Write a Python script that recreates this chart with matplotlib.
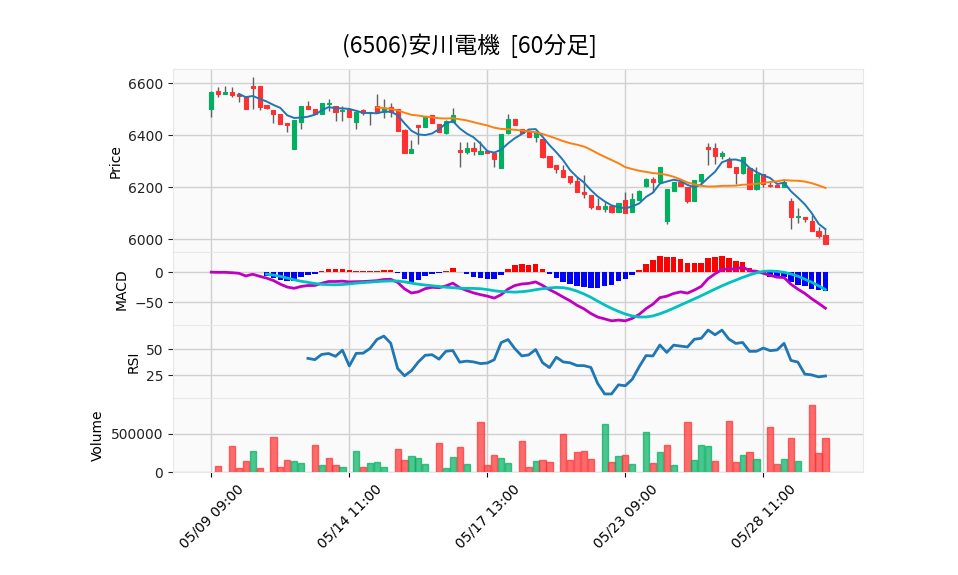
import numpy as np
import pandas as pd
import matplotlib
matplotlib.use("Agg")
import matplotlib.pyplot as plt

# 60-minute bars, (6506) 安川電機
opens = [6500, 6569, 6560, 6567, 6560, 6549, 6590, 6590, 6515, 6496,
         6482, 6449, 6349, 6453, 6513, 6501, 6483, 6521, 6513, 6495,
         6501, 6453, 6497, 6486, 6513, 6488, 6508, 6500, 6421, 6331,
         6440, 6433, 6478, 6444, 6410, 6453, 6343, 6337, 6350, 6327,
         6340, 6333, 6276, 6408, 6462, 6426, 6413, 6395, 6385, 6322,
         6286, 6267, 6244, 6224, 6182, 6169, 6128, 6118, 6128, 6106,
         6151, 6106, 6151, 6206, 6232, 6222, 6072, 6187, 6222, 6203,
         6149, 6226, 6354, 6350, 6322, 6308, 6279, 6256, 6276, 6192,
         6250, 6209, 6209, 6200, 6147, 6085, 6087, 6070, 6032, 6017]
highs = [6572, 6585, 6590, 6585, 6564, 6551, 6623, 6590, 6515, 6496,
         6482, 6449, 6459, 6513, 6531, 6501, 6524, 6541, 6513, 6513,
         6501, 6488, 6500, 6490, 6559, 6538, 6523, 6500, 6426, 6382,
         6440, 6476, 6478, 6444, 6459, 6504, 6376, 6376, 6376, 6380,
         6340, 6333, 6405, 6482, 6462, 6426, 6420, 6413, 6385, 6322,
         6286, 6286, 6244, 6241, 6246, 6169, 6158, 6145, 6128, 6141,
         6183, 6177, 6190, 6235, 6238, 6277, 6194, 6222, 6222, 6203,
         6228, 6251, 6372, 6372, 6341, 6315, 6279, 6315, 6276, 6277,
         6250, 6224, 6209, 6229, 6160, 6119, 6087, 6094, 6049, 6042]
lows = [6469, 6546, 6559, 6546, 6527, 6500, 6500, 6497, 6500, 6449,
        6443, 6414, 6349, 6423, 6500, 6483, 6483, 6495, 6456, 6456,
        6472, 6426, 6477, 6440, 6488, 6465, 6472, 6418, 6331, 6331,
        6367, 6433, 6446, 6414, 6404, 6453, 6279, 6328, 6324, 6327,
        6331, 6279, 6276, 6405, 6440, 6410, 6395, 6376, 6311, 6279,
        6256, 6241, 6213, 6183, 6157, 6115, 6118, 6106, 6103, 6106,
        6103, 6106, 6151, 6203, 6183, 6222, 6058, 6187, 6206, 6141,
        6149, 6210, 6286, 6288, 6308, 6277, 6213, 6251, 6195, 6190,
        6203, 6200, 6200, 6200, 6038, 6062, 6065, 6032, 6004, 5981]
closes = [6565, 6560, 6565, 6556, 6550, 6503, 6583, 6510, 6506, 6483,
          6445, 6441, 6459, 6513, 6500, 6483, 6524, 6523, 6491, 6497,
          6472, 6488, 6485, 6488, 6490, 6504, 6488, 6418, 6331, 6347,
          6433, 6476, 6449, 6414, 6456, 6478, 6337, 6350, 6341, 6338,
          6331, 6308, 6405, 6462, 6440, 6410, 6395, 6413, 6315, 6279,
          6272, 6241, 6222, 6183, 6175, 6126, 6118, 6128, 6106, 6141,
          6103, 6154, 6186, 6232, 6222, 6277, 6194, 6222, 6206, 6149,
          6228, 6251, 6349, 6322, 6331, 6277, 6256, 6315, 6195, 6251,
          6212, 6206, 6200, 6221, 6085, 6091, 6077, 6032, 6014, 5981]
volumes = [np.nan, 87000, np.nan, 348000, 61000, 152000, 283000, 61000, np.nan, 452000,
           74000, 165000, 152000, 126000, np.nan, 361000, 100000, 191000, 100000, 74000,
           np.nan, 283000, 74000, 126000, 139000, 74000, np.nan, 309000, 165000, 217000,
           191000, 113000, np.nan, 387000, 61000, 204000, 335000, 113000, np.nan, 648000,
           100000, 230000, 191000, 126000, np.nan, 413000, 74000, 152000, 165000, 139000,
           np.nan, 491000, 165000, 270000, 283000, 178000, np.nan, 622000, 139000, 217000,
           230000, 113000, np.nan, 517000, 126000, 270000, 361000, 100000, np.nan, 648000,
           165000, 361000, 348000, 152000, np.nan, 661000, 139000, 230000, 270000, 178000,
           np.nan, 583000, 113000, 178000, 439000, 152000, np.nan, 870000, 257000, 439000]

tick_pos = [0, 20, 40, 60, 80]
tick_labels = ['05/09 09:00', '05/14 11:00', '05/17 13:00', '05/23 09:00', '05/28 11:00']
title = '(6506)安川電機  [60分足]'

df = pd.DataFrame({'Open': opens, 'High': highs, 'Low': lows,
                   'Close': closes, 'Volume': volumes})
x = np.arange(len(df))

# indicators
ma5 = df['Close'].rolling(5).mean()
ma25 = df['Close'].rolling(25).mean()
ema12 = df['Close'].ewm(span=12, adjust=False).mean()
ema26 = df['Close'].ewm(span=26, adjust=False).mean()
macd = ema12 - ema26
signal = macd.rolling(9).mean()
hist = macd - signal
delta = df['Close'].diff()
gain = delta.clip(lower=0).rolling(14).mean()
loss = (-delta.clip(upper=0)).rolling(14).mean()
rsi = 100 - 100 / (1 + gain / loss)

up_c = '#00b060'
down_c = '#fe3032'
grid_c = '#d0d0d0'

fig = plt.figure(figsize=(9.58, 5.75), dpi=100)
left, width = 0.1806, 0.7203
ax1 = fig.add_axes([left, 0.5612, width, 0.3183])
ax2 = fig.add_axes([left, 0.4348, width, 0.1264], sharex=ax1)
ax3 = fig.add_axes([left, 0.3073, width, 0.1275], sharex=ax1)
ax4 = fig.add_axes([left, 0.1786, width, 0.1287], sharex=ax1)

for ax in (ax1, ax2, ax3, ax4):
    ax.set_facecolor('#fafafa')
    ax.grid(True, color=grid_c, linewidth=1.0)
    ax.set_axisbelow(True)
    for s in ax.spines.values():
        s.set_color('#e8e8e8')
    ax.tick_params(axis='y', labelsize=10, colors='#222222', length=3.5)
    ax.tick_params(axis='x', length=3.5)

# candles
is_up = df['Close'] >= df['Open']
cols = np.where(is_up, up_c, down_c)
ax1.vlines(x, df['Low'], df['High'], color='#606060', linewidth=1.0, zorder=2)
body_lo = np.minimum(df['Open'], df['Close'])
body_h = (df['Close'] - df['Open']).abs()
ax1.bar(x, body_h, bottom=body_lo, width=0.6, color=cols, edgecolor=cols,
        linewidth=0.8, zorder=3)
ax1.plot(x, ma5, color='#1f77b4', linewidth=1.4, zorder=4)
ax1.plot(x, ma25, color='#ff7f0e', linewidth=1.4, zorder=4)
ax1.set_ylim(5950, 6654)
ax1.set_yticks([6000, 6200, 6400, 6600])
ax1.set_ylabel('Price', fontsize=10)

# MACD
hcols = np.where(hist >= 0, '#ff0000', '#0000ff')
ax2.bar(x, hist, width=0.8, color=hcols, zorder=2)
ax2.plot(x, macd, color='#c000c0', linewidth=2, zorder=3)
ax2.plot(x, signal, color='#00c0c0', linewidth=2, zorder=3)
ax2.set_ylim(-88, 33)
ax2.set_yticks([-50, 0])
ax2.set_ylabel('MACD', fontsize=10)

# RSI
ax3.plot(x, rsi, color='#1f77b4', linewidth=2)
ax3.set_ylim(3, 73.5)
ax3.set_yticks([25, 50])
ax3.set_ylabel('RSI', fontsize=10)

# Volume
vup = df['Close'].diff() >= 0
vcols = np.where(vup, up_c, down_c)
ax4.bar(x, df['Volume'], width=0.9, color=vcols, edgecolor=vcols,
        alpha=0.7, linewidth=1.0)
ax4.set_ylim(0, 961000)
ax4.set_yticks([0, 500000])
ax4.set_ylabel('Volume', fontsize=10)

ax1.set_xlim(-5.55, 94.45)
ax4.set_xticks(tick_pos)
ax4.set_xticklabels(tick_labels, rotation=45, ha='center', fontsize=10)
for ax in (ax1, ax2, ax3):
    ax.tick_params(axis='x', labelbottom=False, length=0)

fig.text(0.49, 0.921, title, ha='center', va='center', fontsize=16.5,
         family=['Noto Sans CJK JP', 'DejaVu Sans'])

fig.savefig('out.png', dpi=100)
